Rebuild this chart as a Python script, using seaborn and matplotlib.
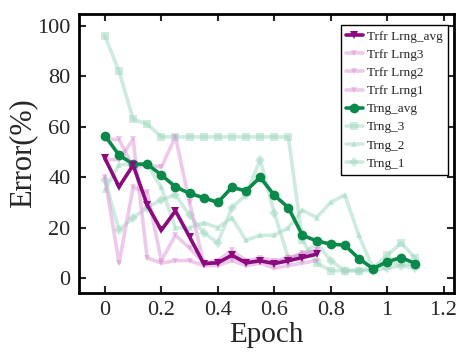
import numpy as np
import pandas as pd
import matplotlib
matplotlib.use("Agg")
import matplotlib.pyplot as plt
import seaborn as sns

sns.set_style("ticks")
plt.rcParams['font.family'] = ['Liberation Serif', 'DejaVu Serif']
plt.rcParams['mathtext.fontset'] = 'stix'

# epochs (step 0.05)
epoch_trfr = np.round(np.arange(16) * 0.05, 2)   # 0 .. 0.75
epoch_trng = np.round(np.arange(23) * 0.05, 2)   # 0 .. 1.10

trfr_avg = [47.5, 36.2, 44.8, 29, 19, 26.7, 16.4, 5.8, 6.1, 9.1, 6.1, 6.9, 5.8, 6.9, 8.2, 9.5]
trfr_3 = [55, 55, 44, 45, 44, 56, 30, 6, 6, 9, 6, 7, 6, 8, 9, 11]
trfr_2 = [47, 47, 55, 8, 6, 7, 7, 5, 5, 7, 5, 6, 4, 5, 6, 7]
trfr_1 = [40, 6, 36, 34, 7, 17, 12, 6, 7, 11, 7, 8, 7, 8, 10, 11]

trng_avg = [56.5, 48.8, 45.2, 45.2, 40.9, 36.2, 33.6, 31.9, 30, 36, 34.6, 40,
            32.9, 28, 17, 14.8, 13.5, 13.1, 7.8, 3.8, 6.5, 8.2, 5.8]
trng_3 = [96, 82, 63, 61, 56, 56, 56, 56, 56, 56, 56, 56, 56, 56, 15, 6, 3, 3, 3, 4, 9, 14, 8]
trng_2 = [35, 45, 45, 45, 36, 20, 20, 22, 20, 24, 15, 17, 17, 20, 27, 24, 30, 33, 17, 4, 6, 6, 5]
trng_1 = [39, 19, 24, 28, 31, 33, 25, 18, 14, 28, 33, 47, 26, 8, 9, 14, 7, 3, 3, 3, 4, 5, 4]

purple = '#8c0a80'
pink = '#dc95d6'
dgreen = '#0a8a4a'
lgreen = '#9fd8c0'

fig, ax = plt.subplots(figsize=(4.59, 3.58), dpi=100)
fig.subplots_adjust(left=0.172, right=0.989, bottom=0.182, top=0.961)

# light individual runs first (behind)
light = [
    (epoch_trng, trng_1, 'Trng_1', lgreen, 'D', 5),
    (epoch_trng, trng_2, 'Trng_2', lgreen, '^', 5),
    (epoch_trng, trng_3, 'Trng_3', lgreen, 's', 6),
    (epoch_trfr, trfr_1, 'Trfr Lrng1', pink, 'v', 5),
    (epoch_trfr, trfr_2, 'Trfr Lrng2', pink, 'v', 5),
    (epoch_trfr, trfr_3, 'Trfr Lrng3', pink, 'v', 5),
]
for xs, ys, name, col, mk, ms in light:
    sns.lineplot(x=xs, y=ys, ax=ax, color=col, marker=mk, markersize=ms,
                 markeredgewidth=0, linewidth=2.6, alpha=0.5, label=name)

sns.lineplot(x=epoch_trng, y=trng_avg, ax=ax, color=dgreen, marker='o', markersize=7,
             markeredgewidth=0, linewidth=2.6, label='Trng_avg')
sns.lineplot(x=epoch_trfr, y=trfr_avg, ax=ax, color=purple, marker='v', markersize=6,
             markeredgewidth=0, linewidth=2.6, label='Trfr Lrng_avg')

ax.set_xlim(-0.092, 1.237)
ax.set_ylim(-5.8, 104.7)
ax.set_xticks([0, 0.2, 0.4, 0.6, 0.8, 1.0, 1.2])
ax.set_xticklabels(['0', '0.2', '0.4', '0.6', '0.8', '1', '1.2'])
ax.set_yticks([0, 20, 40, 60, 80, 100])
ax.tick_params(direction='in', length=5, width=1.5, top=True, right=True,
               labelsize=16, pad=6)
for sp in ax.spines.values():
    sp.set_linewidth(2)
    sp.set_color('black')
ax.set_xlabel('Epoch', fontsize=21, labelpad=1)
ax.set_ylabel('Error(%)', fontsize=22, labelpad=0)

handles, labels = ax.get_legend_handles_labels()
order = ['Trfr Lrng_avg', 'Trfr Lrng3', 'Trfr Lrng2', 'Trfr Lrng1',
         'Trng_avg', 'Trng_3', 'Trng_2', 'Trng_1']
hmap = dict(zip(labels, handles))
leg = ax.legend([hmap[k] for k in order], order, loc='upper right',
                bbox_to_anchor=(0.984, 0.96), borderaxespad=0, fontsize=9.5,
                frameon=True, fancybox=False, edgecolor='black', framealpha=1,
                handlelength=1.3, handletextpad=0.3, borderpad=0.4,
                labelspacing=0.45)
leg.get_frame().set_linewidth(1.0)

fig.savefig('out.png', dpi=100)
